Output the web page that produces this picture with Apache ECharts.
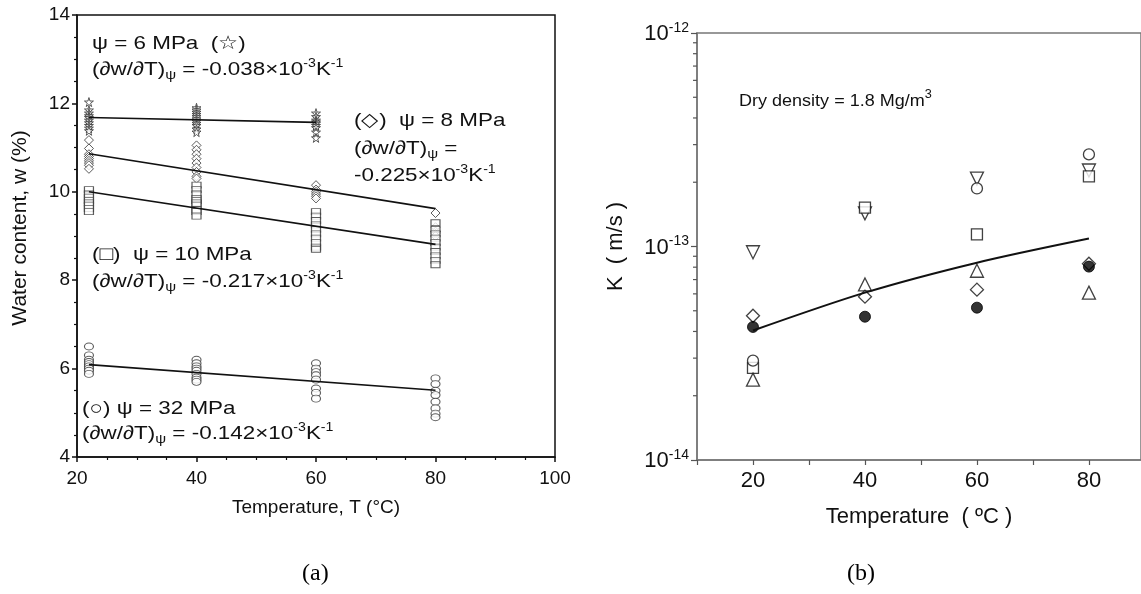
<!DOCTYPE html>
<html>
<head>
<meta charset="utf-8">
<script src="https://cdn.jsdelivr.net/npm/echarts@6/dist/echarts.min.js"></script>
<style>
html,body{margin:0;padding:0;background:#fff;}
#main{width:1141px;height:594px;}
</style>
</head>
<body>
<div id="main"></div>
<script>
// ---- panel (a): water content vs temperature ----
var tA = [22, 40, 60, 80];
var star6 = [
	[12.03, 11.85, 11.78, 11.72, 11.68, 11.62, 11.56, 11.5, 11.44, 11.38],
	[11.9, 11.85, 11.8, 11.75, 11.7, 11.65, 11.6, 11.55, 11.5, 11.42, 11.35],
	[11.78, 11.7, 11.62, 11.58, 11.55, 11.5, 11.45, 11.35, 11.22],
	[]
];
var diam8 = [
	[11.17, 10.98, 10.85, 10.8, 10.75, 10.7, 10.65, 10.6, 10.52],
	[11.05, 10.95, 10.85, 10.75, 10.65, 10.55, 10.45, 10.35, 10.3],
	[10.15, 10.05, 10.0, 9.95, 9.9, 9.85],
	[9.52, 9.2, 9.1, 9.05, 9.0]
];
var sq10 = [
	[10.05, 9.95, 9.88, 9.8, 9.75, 9.7, 9.62, 9.55],
	[10.15, 10.05, 9.95, 9.85, 9.8, 9.75, 9.7, 9.6, 9.55, 9.45],
	[9.55, 9.45, 9.35, 9.25, 9.15, 9.05, 8.95, 8.85, 8.75, 8.7],
	[9.3, 9.15, 9.05, 8.95, 8.85, 8.75, 8.65, 8.55, 8.45, 8.35]
];
var circ32 = [
	[6.5, 6.3, 6.2, 6.15, 6.1, 6.05, 6.0, 5.95, 5.88],
	[6.2, 6.12, 6.05, 6.0, 5.95, 5.88, 5.8, 5.75, 5.7],
	[6.12, 6.0, 5.92, 5.85, 5.75, 5.55, 5.45, 5.32],
	[5.78, 5.65, 5.5, 5.4, 5.25, 5.1, 4.98, 4.9]
];
// fitted lines [T, w]
var fit6 = [[22, 11.68], [60, 11.57]];
var fit8 = [[22, 10.86], [80, 9.62]];
var fit10 = [[22, 10.0], [80, 8.81]];
var fit32 = [[22, 6.09], [80, 5.51]];

// ---- panel (b): hydraulic conductivity vs temperature ----
var tB = [20, 40, 60, 80];
var kDown = [9.4e-14, 1.43e-13, 2.08e-13, 2.27e-13];
var kSquare = [2.7e-14, 1.52e-13, 1.14e-13, 2.13e-13];
var kCircle = [2.92e-14, null, 1.87e-13, 2.7e-13];
var kUp = [2.38e-14, 6.64e-14, 7.7e-14, 6.08e-14];
var kDiamond = [4.74e-14, 5.82e-14, 6.28e-14, 8.3e-14];
var kDot = [4.2e-14, 4.69e-14, 5.17e-14, 8.05e-14];
var kModel = [4.04e-14, 6.08e-14, 8.4e-14, 1.09e-13];
var logMinor = [2, 3, 4, 5, 6, 7, 8, 9];

var starPath = 'path://M50,0 L61,35 L98,35 L68,57 L79,91 L50,70 L21,91 L32,57 L2,35 L39,35 Z';

function cloud(cols){
	var out = [];
	for (var i = 0; i < cols.length; i++){
		for (var j = 0; j < cols[i].length; j++){
			out.push([tA[i], cols[i][j]]);
		}
	}
	return out;
}
function pairs(vals){
	var out = [];
	for (var i = 0; i < vals.length; i++){
		if (vals[i] != null) out.push([tB[i], vals[i]]);
	}
	return out;
}
function minorTicks(){
	var out = [];
	for (var e = -14; e < -12; e++){
		for (var k = 0; k < logMinor.length; k++){
			out.push([10, logMinor[k] * Math.pow(10, e)]);
		}
	}
	return out;
}

var ptStyle = {color: '#fff', borderColor: '#333', borderWidth: 1};
function scatterA(name, data, symbol, size){
	return {name: name, type: 'scatter', xAxisIndex: 0, yAxisIndex: 0, data: data,
		symbol: symbol, symbolSize: size, itemStyle: ptStyle, z: 3, silent: true};
}
function fitLine(data){
	return {type: 'line', xAxisIndex: 0, yAxisIndex: 0, data: data, symbol: 'none',
		lineStyle: {color: '#111', width: 1.6}, z: 4, silent: true};
}
var openB = {color: '#fff', borderColor: '#111', borderWidth: 1.3};
function scatterB(data, symbol, size, rot, style){
	return {type: 'scatter', xAxisIndex: 1, yAxisIndex: 1, data: pairs(data),
		symbol: symbol, symbolSize: size, symbolRotate: rot || 0,
		itemStyle: style || openB, z: 3, silent: true};
}

var txt = '#111';
var richA = {
	sub: {fontSize: 13, fontFamily: 'Arial', verticalAlign: 'bottom', lineHeight: 12, fill: txt},
	sup: {fontSize: 12, fontFamily: 'Arial', verticalAlign: 'top', lineHeight: 12, fill: txt}
};
// the scanned panel (a) lettering is a little stretched sideways
function label(x, y, s, font, sx){
	return {type: 'text', x: x, y: y, scaleX: sx || 1.18, z: 10, silent: true,
		style: {x: 0, y: 0, text: s, font: font || '19px Arial', fill: txt, rich: richA,
			lineHeight: 24, verticalAlign: 'top'}};
}

var chart = echarts.init(document.getElementById('main'));
var option = {
	backgroundColor: '#fff',
	animation: false,
	grid: [
		{left: 77, top: 15, width: 478, height: 442, show: true, borderColor: '#111', borderWidth: 1.5},
		// panel (b) is cut off at the right edge of the picture
		{left: 697, top: 33, right: 0, bottom: 134, show: true, borderColor: '#777', borderWidth: 1.5}
	],
	xAxis: [
		{type: 'value', gridIndex: 0, min: 20, max: 100, interval: 20,
			name: 'Temperature, T (°C)', nameLocation: 'middle', nameGap: 41,
			nameTextStyle: {fontFamily: 'Arial', fontSize: 19, color: txt},
			axisLine: {lineStyle: {color: '#111', width: 1.5}},
			axisTick: {inside: false, length: 5, lineStyle: {color: '#111', width: 1.5}},
			minorTick: {show: true, splitNumber: 4, length: 3, lineStyle: {color: '#111', width: 1.2}},
			axisLabel: {fontFamily: 'Arial', fontSize: 19, color: txt, margin: 12},
			splitLine: {show: false}},
		{type: 'value', gridIndex: 1, min: 10, max: 89.3, interval: 10,
			name: 'Temperature  ( ºC )', nameLocation: 'middle', nameGap: 46, nameMoveOverlap: false,
			nameTextStyle: {fontFamily: 'Arial', fontSize: 22, color: txt, padding: [0, 0, 0, 0]},
			axisLine: {lineStyle: {color: '#777', width: 1.5}},
			axisTick: {length: 5, lineStyle: {color: '#555', width: 1.2}},
			axisLabel: {fontFamily: 'Arial', fontSize: 22, color: txt, margin: 10, showMaxLabel: false,
				formatter: function(v){ return v % 20 === 0 ? String(v) : ''; }},
			splitLine: {show: false}}
	],
	yAxis: [
		{type: 'value', gridIndex: 0, min: 4, max: 14, interval: 2,
			name: 'Water content, w (%)', nameLocation: 'middle', nameGap: 46,
			nameTextStyle: {fontFamily: 'Arial', fontSize: 21, color: txt, padding: [0, 0, 0, 16]},
			axisLine: {lineStyle: {color: '#111', width: 1.5}},
			axisTick: {length: 5, lineStyle: {color: '#111', width: 1.5}},
			minorTick: {show: true, splitNumber: 4, length: 3, lineStyle: {color: '#111', width: 1.2}},
			axisLabel: {fontFamily: 'Arial', fontSize: 19, color: txt, margin: 7},
			splitLine: {show: false}},
		{type: 'log', gridIndex: 1, logBase: 10, min: 1e-14, max: 1e-12, interval: 1,
			name: 'K  ( m/s )', nameLocation: 'middle', nameGap: 70,
			nameTextStyle: {fontFamily: 'Arial', fontSize: 22, color: txt},
			axisLine: {lineStyle: {color: '#777', width: 1.5}},
			axisTick: {length: 6, lineStyle: {color: '#555', width: 1.2}},
			axisLabel: {margin: 8, color: txt,
				formatter: function(v){
					var e = Math.round(Math.log(v) / Math.LN10);
					return '{b|10}{s|' + e + '}';
				},
				rich: {
					b: {fontFamily: 'Arial', fontSize: 22, color: txt, verticalAlign: 'bottom', lineHeight: 24},
					s: {fontFamily: 'Arial', fontSize: 14, color: txt, verticalAlign: 'top', lineHeight: 24}
				}},
			splitLine: {show: false}}
	],
	series: [
		scatterA('psi6', cloud(star6), starPath, 9),
		scatterA('psi8', cloud(diam8), 'diamond', 9),
		scatterA('psi10', cloud(sq10), 'rect', [9, 6]),
		scatterA('psi32', cloud(circ32), 'circle', [9, 7]),
		fitLine(fit6), fitLine(fit8), fitLine(fit10), fitLine(fit32),
		scatterB(kDown, 'triangle', 13, 180),
		scatterB(kSquare, 'rect', 11),
		scatterB(kCircle, 'circle', 11),
		scatterB(kUp, 'triangle', 13, 0),
		scatterB(kDiamond, 'diamond', 13),
		scatterB(kDot, 'circle', 11, 0, {color: '#000', borderColor: '#000', borderWidth: 1}),
		{type: 'line', xAxisIndex: 1, yAxisIndex: 1, data: pairs(kModel), smooth: 0.3,
			symbol: 'none', lineStyle: {color: '#111', width: 2}, z: 4, silent: true},
		{type: 'custom', xAxisIndex: 1, yAxisIndex: 1, data: minorTicks(), clip: false, silent: true,
			renderItem: function(params, api){
				var p = api.coord([api.value(0), api.value(1)]);
				return {type: 'line', shape: {x1: p[0] - 4, y1: p[1], x2: p[0], y2: p[1]},
					style: {stroke: '#555', lineWidth: 1.2}};
			}}
	],
	graphic: [
		label(92, 32, 'ψ = 6 MPa  (☆)'),
		label(92, 58, '(∂w/∂T){sub|ψ} = -0.038×10{sup|-3}K{sup|-1}'),
		label(354, 109, '(◇)  ψ = 8 MPa'),
		label(354, 137, '(∂w/∂T){sub|ψ} ='),
		label(354, 164, '-0.225×10{sup|-3}K{sup|-1}'),
		label(92, 243, '(□)  ψ = 10 MPa'),
		label(92, 270, '(∂w/∂T){sub|ψ} = -0.217×10{sup|-3}K{sup|-1}'),
		label(82, 397, '(○) ψ = 32 MPa'),
		label(82, 422, '(∂w/∂T){sub|ψ} = -0.142×10{sup|-3}K{sup|-1}'),
		label(739, 89, 'Dry density = 1.8 Mg/m{sup|3}', '17px Arial', 1.06),
		{type: 'text', left: 302, top: 562, silent: true,
			style: {text: '({a|a})', font: '24px "Liberation Serif"', fill: '#000',
				rich: {a: {fontFamily: 'Liberation Serif', fontSize: 24, color: '#1f1fff'}}}},
		{type: 'text', left: 847, top: 562, silent: true,
			style: {text: '({a|b})', font: '24px "Liberation Serif"', fill: '#000',
				rich: {a: {fontFamily: 'Liberation Serif', fontSize: 24, color: '#1f1fff'}}}}
	]
};
chart.setOption(option);
</script>
</body>
</html>
